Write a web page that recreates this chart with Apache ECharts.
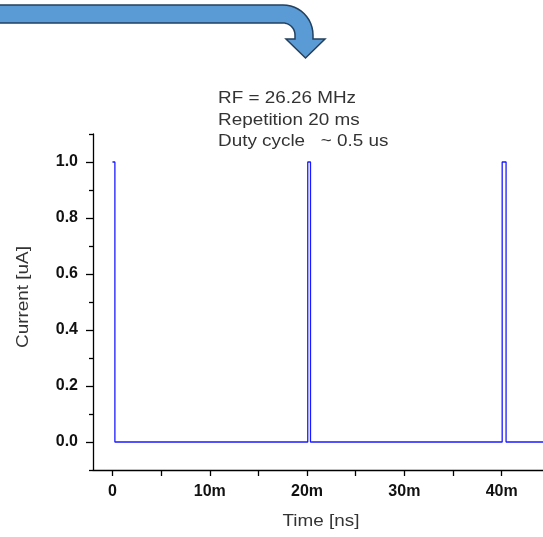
<!DOCTYPE html>
<html>
<head>
<meta charset="utf-8">
<script src="https://cdn.jsdelivr.net/npm/echarts@6/dist/echarts.min.js"></script>
<style>
html,body{margin:0;padding:0;background:#fff;}
#chart{width:543px;height:537px;}
</style>
</head>
<body>
<div id="chart"></div>
<script>
// Data (time in ms, current in uA)
var timeMs  = [0, 0.25, 0.25, 20.07, 20.07, 20.35, 20.35, 40.05, 40.05, 40.45, 40.45, 50];
var current = [1, 1,    0,    0,     1,     1,     0,     0,     1,     1,     0,     0];
var xLabelValues = [0, 10, 20, 30, 40, 50];
var xTickValues = [0, 5, 10, 15, 20, 25, 30, 35, 40, 45, 50];
var yLabelValues = [0, 0.2, 0.4, 0.6, 0.8, 1.0];
var yMinorValues = [-0.1, 0.1, 0.3, 0.5, 0.7, 0.9, 1.1];
var annotation = ['RF = 26.26 MHz', 'Repetition 20 ms', 'Duty cycle   ~ 0.5 us'];

var seriesData = timeMs.map(function (t, i) { return [t, current[i]]; });

// decorative curved arrow outline
function arrowPoints() {
  var pts = [[-5, 5], [283, 5]];
  var cx = 283, cy = 35, i, a;
  for (i = 1; i <= 12; i++) { a = -Math.PI / 2 + (Math.PI / 2) * i / 12; pts.push([cx + 30 * Math.cos(a), cy + 30 * Math.sin(a)]); }
  pts.push([313, 39], [325, 39], [305.5, 58], [286, 39], [295, 39]);
  for (i = 0; i <= 12; i++) { a = -(Math.PI / 2) * i / 12; pts.push([cx + 12 * Math.cos(a), cy + 12 * Math.sin(a)]); }
  pts.push([-5, 23]);
  return pts;
}

var chart = echarts.init(document.getElementById('chart'), null, {renderer: 'canvas'});
var axisColor = '#000';
var font = '"Liberation Sans", Arial, sans-serif';
var stretch = 1.18;

var option = {
  animation: false,
  backgroundColor: '#fff',
  grid: {left: 93, top: 134, width: 506, height: 336, containLabel: false, outerBoundsMode: 'none'},
  xAxis: [{
    type: 'value', min: -2, max: 50,
    axisLine: {show: true, onZero: false, lineStyle: {color: axisColor, width: 1.3}},
    axisTick: {show: true, length: 6, customValues: xTickValues, lineStyle: {color: axisColor, width: 1.3}},
    axisLabel: {show: true, customValues: xLabelValues, margin: 14, color: '#111', fontFamily: font, fontWeight: 'bold', fontSize: 16,
      formatter: function (v) { return v === 0 ? '0' : v + 'm'; }},
    splitLine: {show: false}
  }],
  yAxis: [{
    type: 'value', min: -0.1, max: 1.1,
    axisLine: {show: true, onZero: false, lineStyle: {color: axisColor, width: 1.3}},
    axisTick: {show: true, length: 7, customValues: yLabelValues, lineStyle: {color: axisColor, width: 1.3}},
    axisLabel: {show: true, customValues: yLabelValues, margin: 15, color: '#111', fontFamily: font, fontWeight: 'bold', fontSize: 16,
      formatter: function (v) { return v.toFixed(1); }},
    splitLine: {show: false}
  }, {
    type: 'value', min: -0.1, max: 1.1, position: 'left', offset: 0,
    axisLine: {show: false, onZero: false},
    axisTick: {show: true, length: 4, customValues: yMinorValues, lineStyle: {color: axisColor, width: 1.3}},
    axisLabel: {show: false},
    splitLine: {show: false}
  }],
  series: [{
    type: 'line',
    xAxisIndex: 0, yAxisIndex: 0,
    data: seriesData,
    showSymbol: false,
    symbol: 'none',
    lineStyle: {color: '#1a1aff', width: 1.3},
    clip: true
  }],
  graphic: [
    {
      type: 'polygon',
      shape: {points: arrowPoints()},
      style: {fill: '#5b9bd5', stroke: '#22405f', lineWidth: 1.5}
    },
    {type: 'text', x: 218, y: 99, scaleX: stretch,
      style: {text: annotation[0], font: '16px ' + font, fill: '#333', textAlign: 'left', textVerticalAlign: 'middle'}},
    {type: 'text', x: 218, y: 120.5, scaleX: stretch,
      style: {text: annotation[1], font: '16px ' + font, fill: '#333', textAlign: 'left', textVerticalAlign: 'middle'}},
    {type: 'text', x: 218, y: 142, scaleX: stretch,
      style: {text: annotation[2], font: '16px ' + font, fill: '#333', textAlign: 'left', textVerticalAlign: 'middle'}},
    {type: 'text', x: 321, y: 522, scaleX: stretch,
      style: {text: 'Time [ns]', font: '16px ' + font, fill: '#333', textAlign: 'center', textVerticalAlign: 'middle'}},
    {type: 'text', x: 24, y: 297, rotation: Math.PI / 2, scaleX: stretch,
      style: {text: 'Current [uA]', font: '16px ' + font, fill: '#333', textAlign: 'center', textVerticalAlign: 'middle'}}
  ]
};
chart.setOption(option);
</script>
</body>
</html>
